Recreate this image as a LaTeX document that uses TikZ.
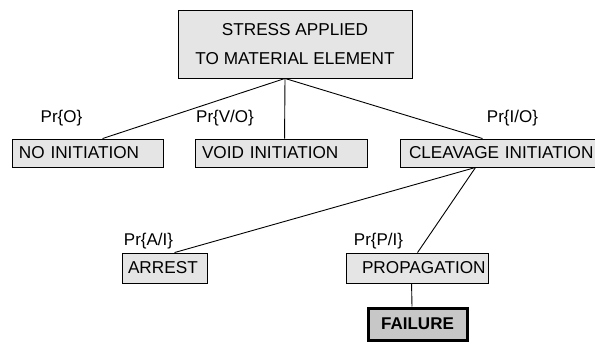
\documentclass[tikz,border=0pt]{standalone}
\usepackage{fontspec}
\setmainfont{Liberation Sans}
\begin{document}
\begin{tikzpicture}[x=1pt,y=1pt,
  box/.style={draw=black, line width=0.9pt, fill=black!10, inner sep=0pt, minimum height=28pt, text width=#1, align=left, font=\fontsize{17.2}{20}\selectfont},
  topbox/.style={draw=black, line width=0.9pt, fill=black!10, inner sep=0pt, minimum width=234pt, minimum height=68pt, align=center, font=\fontsize{17.2}{29}\selectfont},
  failbox/.style={draw=black, line width=3pt, fill=black!22, inner sep=0pt, minimum width=99pt, minimum height=32pt, font=\fontsize{17}{20}\selectfont\bfseries},
  prob/.style={inner sep=0pt, font=\fontsize{17}{20}\selectfont},
  conn/.style={draw=black, line width=0.9pt}
]
\useasboundingbox (0,0) rectangle (595,-342);
\clip (0,0) rectangle (595,-342);
% nodes
\node[topbox] (top) at (295,-44) {STRESS APPLIED\\TO MATERIAL ELEMENT};
\node[box=151pt] (noinit) at (87.5,-153) {\hspace*{7pt}NO INITIATION};
\node[box=172pt] (void) at (281,-153) {\hspace*{7pt}VOID INITIATION};
\node[box=200pt] (cleave) at (500,-153) {\hspace*{9pt}CLEAVAGE INITIATION};
\node[box=85pt, minimum height=30pt] (arrest) at (164.5,-268) {\hspace*{6pt}ARREST};
\node[box=142pt, minimum height=30pt] (prop) at (417,-268) {\hspace*{16pt}PROPAGATION};
\node[failbox] (fail) at (417.5,-324) {FAILURE};
% labels
\node[prob] (lo) at (61.5,-118) {Pr\{O\}};
\node[prob] (lvo) at (225,-118) {Pr\{V/O\}};
\node[prob] (lio) at (512.5,-118) {Pr\{I/O\}};
\node[prob] (lai) at (148.5,-241) {Pr\{A/I\}};
\node[prob] (lpi) at (378.5,-241) {Pr\{P/I\}};
% connectors
\coordinate (ts) at ([xshift=-10pt]top.south);
\coordinate (cs) at ([xshift=76pt]cleave.south west);
\draw[conn] (ts) -- ([xshift=91pt]noinit.north west);
\draw[conn] (ts) -- ([xshift=90pt]void.north west);
\draw[conn] (ts) -- ([xshift=83pt]cleave.north west);
\draw[conn] (cs) -- ([xshift=53pt]arrest.north west);
\draw[conn] (cs) -- ([xshift=72pt]prop.north west);
\draw[conn] ([xshift=66pt]prop.south west) -- ([xshift=-5.5pt]fail.north);
\end{tikzpicture}
\end{document}
